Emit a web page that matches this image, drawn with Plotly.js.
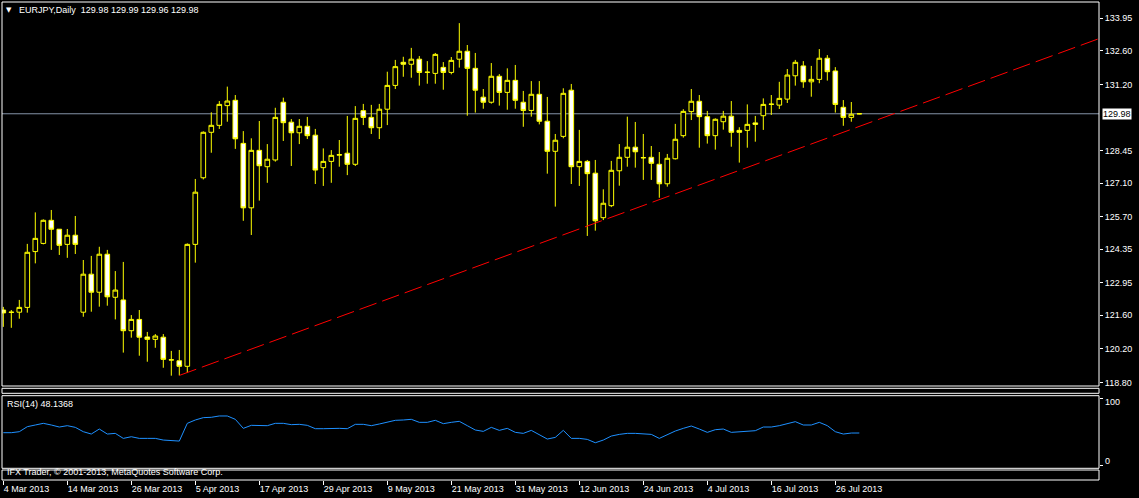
<!DOCTYPE html>
<html><head><meta charset="utf-8">
<script src="https://cdn.plot.ly/plotly-3.0.1.min.js"></script>
<style>html,body{margin:0;padding:0;background:#000;overflow:hidden}#chart{width:1139px;height:498px}</style>
</head><body><div id="chart"></div>
<script>
const dates = [
'2013-03-04','2013-03-05','2013-03-06','2013-03-07','2013-03-08','2013-03-11','2013-03-12','2013-03-13','2013-03-14','2013-03-15',
'2013-03-18','2013-03-19','2013-03-20','2013-03-21','2013-03-22','2013-03-25','2013-03-26','2013-03-27','2013-03-28','2013-03-29',
'2013-04-01','2013-04-02','2013-04-03','2013-04-04','2013-04-05','2013-04-08','2013-04-09','2013-04-10','2013-04-11','2013-04-12',
'2013-04-15','2013-04-16','2013-04-17','2013-04-18','2013-04-19','2013-04-22','2013-04-23','2013-04-24','2013-04-25','2013-04-26',
'2013-04-29','2013-04-30','2013-05-01','2013-05-02','2013-05-03','2013-05-06','2013-05-07','2013-05-08','2013-05-09','2013-05-10',
'2013-05-13','2013-05-14','2013-05-15','2013-05-16','2013-05-17','2013-05-20','2013-05-21','2013-05-22','2013-05-23','2013-05-24',
'2013-05-27','2013-05-28','2013-05-29','2013-05-30','2013-05-31','2013-06-03','2013-06-04','2013-06-05','2013-06-06','2013-06-07',
'2013-06-10','2013-06-11','2013-06-12','2013-06-13','2013-06-14','2013-06-17','2013-06-18','2013-06-19','2013-06-20','2013-06-21',
'2013-06-24','2013-06-25','2013-06-26','2013-06-27','2013-06-28','2013-07-01','2013-07-02','2013-07-03','2013-07-04','2013-07-05',
'2013-07-08','2013-07-09','2013-07-10','2013-07-11','2013-07-12','2013-07-15','2013-07-16','2013-07-17','2013-07-18','2013-07-19',
'2013-07-22','2013-07-23','2013-07-24','2013-07-25','2013-07-26','2013-07-29','2013-07-30','2013-07-31'];

const open = [121.82,121.72,121.73,121.93,124.25,124.59,125.55,125.18,124.55,124.93,
121.73,123.31,122.56,124.14,122.35,122.24,120.96,121.43,120.70,120.60,
120.69,119.74,119.71,119.48,124.55,127.32,129.21,129.50,130.32,130.54,
128.75,126.07,128.46,127.78,128.06,130.46,129.63,129.19,129.46,129.09,
127.74,128.00,128.26,128.34,127.88,130.11,129.83,129.40,130.17,131.16,
132.12,132.04,132.25,131.70,131.66,131.91,131.70,132.25,132.58,131.87,
130.67,130.46,131.54,130.87,131.37,130.46,130.12,130.79,129.67,128.42,
129.04,130.96,127.78,128.00,127.51,125.66,126.16,127.61,128.17,128.59,
128.16,128.17,127.88,127.07,128.11,129.07,130.07,130.50,129.86,129.07,
129.65,129.88,129.29,129.29,129.60,129.90,130.37,130.34,130.59,131.56,
131.97,131.31,131.41,132.29,131.76,130.25,129.83,129.98];
const high = [121.95,121.82,122.24,124.57,125.88,125.59,125.98,125.18,125.19,125.73,
123.90,124.07,124.45,124.32,123.44,123.82,121.61,121.82,120.91,120.82,
120.82,120.12,120.16,124.59,127.27,129.25,130.04,130.51,131.11,130.76,
129.26,128.96,129.68,128.72,130.23,130.65,129.76,129.76,129.85,129.35,
128.54,128.47,128.89,129.89,130.30,130.39,130.35,130.39,131.73,132.22,
132.35,132.72,132.38,132.17,132.51,132.13,132.34,133.75,132.84,132.51,
131.01,132.09,131.63,131.87,132.01,130.93,131.34,131.34,130.68,129.14,
131.04,131.22,129.31,128.06,128.06,126.84,128.02,128.72,129.86,129.64,
129.14,128.64,128.39,128.31,129.56,130.17,131.01,130.76,130.10,129.79,
130.10,130.51,129.42,130.37,129.89,130.62,130.76,131.31,131.84,132.22,
132.17,131.97,132.67,132.42,131.92,130.55,130.47,129.99];
const low = [121.12,121.08,121.46,121.71,123.76,124.55,124.32,124.11,123.99,124.15,
121.54,121.75,121.96,122.00,121.43,120.05,120.67,119.92,119.67,120.25,
119.42,119.09,119.10,119.20,123.79,127.25,128.36,129.35,129.65,128.52,
125.53,124.94,126.37,127.11,127.99,128.85,127.81,128.72,128.93,127.06,
126.98,127.11,127.78,127.43,127.81,129.51,129.14,128.93,129.51,131.01,
131.52,131.48,131.15,131.23,131.23,130.98,131.62,131.90,129.90,130.03,
130.19,130.40,130.32,130.15,130.19,129.44,129.86,129.54,127.49,126.12,
128.96,127.06,126.98,124.90,125.12,125.56,126.10,126.99,127.78,127.74,
127.23,127.23,126.49,126.95,128.08,128.99,129.72,128.57,128.74,128.49,
129.32,128.61,127.95,128.57,128.82,129.31,129.93,130.18,130.43,131.15,
131.06,130.69,131.25,131.36,130.03,129.48,129.65,129.96];
const close = [121.70,121.73,121.93,124.22,124.80,125.55,125.18,124.51,124.93,124.55,
123.31,122.56,124.14,122.37,122.65,120.96,121.43,120.69,120.60,120.74,
119.77,119.75,119.48,124.55,126.72,129.21,129.50,130.37,130.51,128.94,
126.07,128.46,127.82,128.09,129.83,129.61,129.19,129.46,129.07,127.64,
128.00,128.25,128.28,127.88,129.79,129.83,129.40,130.17,131.16,131.94,
132.04,132.25,131.70,131.71,132.45,131.70,132.20,132.58,131.87,130.96,
130.46,131.54,130.87,131.37,130.54,130.12,130.79,129.67,128.42,128.88,
130.83,127.78,128.00,127.49,125.53,126.26,127.63,128.17,128.59,128.40,
128.15,127.92,127.07,128.13,128.92,130.08,130.50,129.86,129.07,129.75,
129.88,129.21,129.21,129.54,129.54,130.37,130.38,130.62,131.59,132.12,
131.31,131.41,132.29,131.73,130.37,129.83,129.96,129.98];
const rsi = [48.6,48.6,50.1,57.6,60.1,62.6,60.1,57.1,59.1,56.6,
50.1,46.6,54.1,46.6,47.6,40.1,42.6,40.1,40.1,40.1,
37.6,37.1,36.1,62.6,67.6,71.1,71.6,73.6,73.6,68.6,
55.1,59.6,59.1,59.1,62.6,62.6,60.6,61.1,59.6,54.6,
54.6,55.1,55.1,54.6,61.1,61.1,59.1,61.6,64.6,67.1,
67.6,68.6,64.1,64.1,67.1,62.1,64.1,65.6,59.1,52.6,
50.6,56.6,52.1,55.1,49.1,47.6,52.1,45.1,39.1,41.6,
52.1,40.1,40.1,38.6,33.6,37.6,43.6,46.1,47.6,47.6,
46.6,46.1,40.1,46.1,51.1,55.1,58.6,54.1,49.1,53.1,
54.1,49.1,50.1,51.6,51.6,57.1,57.1,59.1,62.6,65.1,
60.1,60.1,64.1,59.1,50.1,46.6,48.1,48.1368];

const tickDates = ['2013-03-04','2013-03-14','2013-03-26','2013-04-05','2013-04-17','2013-04-29','2013-05-09',
  '2013-05-21','2013-05-31','2013-06-12','2013-06-24','2013-07-04','2013-07-16','2013-07-26'];
const tickLabels = ['4 Mar 2013','14 Mar 2013','26 Mar 2013','5 Apr 2013','17 Apr 2013','29 Apr 2013','9 May 2013',
  '21 May 2013','31 May 2013','12 Jun 2013','24 Jun 2013','4 Jul 2013','16 Jul 2013','26 Jul 2013'];
const priceTicks = [118.80,120.20,121.60,122.95,124.35,125.70,127.10,128.45,131.20,132.60,133.95];
const rsiTicks = [0,100];
const rsiLabels = ['0','100'];
const trendBars = [22,137];
const trendPrices = [119.10,133.11];
const lastPrice = 129.98;
const header = 'EURJPY,Daily  129.98 129.99 129.96 129.98';
const rsiTitle = 'RSI(14) 48.1368';
const footer = 'IFX Trader, \u00a9 2001-2013, MetaQuotes Software Corp.';

const idx = dates.map((d,i)=>i);
const tickvals = tickDates.map(d=>dates.indexOf(d));

// pixel -> paper helpers (plot area: x 2..1099, y 2..480)
const PX = x => (x-2)/1097;
const PY = y => (480-y)/478;
const FONT = 'Liberation Sans, Arial, sans-serif';
const W = '#ffffff';

const traces = [
  {type:'scatter', mode:'lines', x:trendBars, y:trendPrices, xaxis:'x', yaxis:'y',
   line:{color:'#ff0000', width:1, dash:'18px,6px'}, hoverinfo:'skip', showlegend:false},
  {type:'candlestick', x:idx, open:open, high:high, low:low, close:close, xaxis:'x', yaxis:'y',
   increasing:{line:{color:'#ffff00', width:1}, fillcolor:'#000000'},
   decreasing:{line:{color:'#ffff00', width:1}, fillcolor:'#ffffff'},
   whiskerwidth:0, hoverinfo:'skip', showlegend:false},
  {type:'scatter', mode:'lines', x:idx, y:rsi, xaxis:'x', yaxis:'y2',
   line:{color:'#1e90ff', width:1}, hoverinfo:'skip', showlegend:false}
];

const rect = (y0,y1) => ({type:'rect', xref:'paper', yref:'paper', x0:0, x1:1, y0:PY(y1), y1:PY(y0),
  line:{color:W, width:1}, fillcolor:'rgba(0,0,0,0)', layer:'above'});

const layout = {
  width:1139, height:498,
  margin:{l:2, r:40, t:2, b:18, pad:0},
  paper_bgcolor:'#000000', plot_bgcolor:'#000000',
  showlegend:false, boxgap:0.42, boxgroupgap:0,
  font:{family:FONT, size:9, color:W},
  xaxis:{range:[-0.1625,136.96], anchor:'free', position:0, showgrid:false, zeroline:false, showline:false,
    ticks:'outside', ticklen:4, tickwidth:1, tickcolor:W, tickvals:tickvals, ticktext:tickLabels,
    ticklabelposition:'outside right', tickfont:{family:FONT, size:9, color:W},
    rangeslider:{visible:false}, fixedrange:true},
  yaxis:{domain:[PY(386),1], range:[118.661,134.628], side:'right', anchor:'x', showgrid:false, zeroline:false,
    showline:false, ticks:'outside', ticklen:3, tickcolor:W, tickvals:priceTicks, tickformat:'.2f',
    tickfont:{family:FONT, size:9, color:W}, fixedrange:true},
  yaxis2:{domain:[PY(468.3),PY(395.7)], range:[-4.6,103.9], side:'right', anchor:'x', showgrid:false,
    zeroline:false, showline:false, ticks:'outside', ticklen:3, tickcolor:W, tickvals:rsiTicks,
    showticklabels:false, fixedrange:true},
  shapes:[
    {type:'line', xref:'paper', yref:'y', x0:0, x1:1, y0:lastPrice, y1:lastPrice,
     line:{color:'#8594a8', width:1}, layer:'below'},
    rect(2,386), rect(388.3,393.3), rect(395.7,468.3), rect(470,480)
  ],
  annotations:[
    {xref:'paper', yref:'paper', x:PX(4), y:PY(10), xanchor:'left', yanchor:'middle', showarrow:false,
     text:'\u25bc', font:{family:'DejaVu Sans', size:7, color:W}},
    {xref:'paper', yref:'paper', x:PX(17), y:PY(10), xanchor:'left', yanchor:'middle', showarrow:false,
     text:header, font:{family:FONT, size:9, color:W}},
    {xref:'paper', yref:'paper', x:PX(5), y:PY(404), xanchor:'left', yanchor:'middle', showarrow:false,
     text:rsiTitle, font:{family:FONT, size:9, color:W}},
    {xref:'paper', yref:'paper', x:PX(5), y:PY(471.5), xanchor:'left', yanchor:'middle', showarrow:false,
     text:footer, font:{family:FONT, size:9, color:W}},
    {xref:'paper', yref:'paper', x:PX(1103), y:PY(402.3), xanchor:'left', yanchor:'middle', showarrow:false,
     text:rsiLabels[1], font:{family:FONT, size:9, color:W}},
    {xref:'paper', yref:'paper', x:PX(1103), y:PY(461), xanchor:'left', yanchor:'middle', showarrow:false,
     text:rsiLabels[0], font:{family:FONT, size:9, color:W}},
    {xref:'paper', yref:'y', x:PX(1101.5), y:lastPrice, xanchor:'left', yanchor:'middle', showarrow:false,
     text:lastPrice.toFixed(2), bgcolor:'#ffffff', borderpad:0, font:{family:FONT, size:9, color:'#000000'}}
  ]
};

Plotly.newPlot('chart', traces, layout, {displayModeBar:false, staticPlot:true});
</script>
</body></html>
